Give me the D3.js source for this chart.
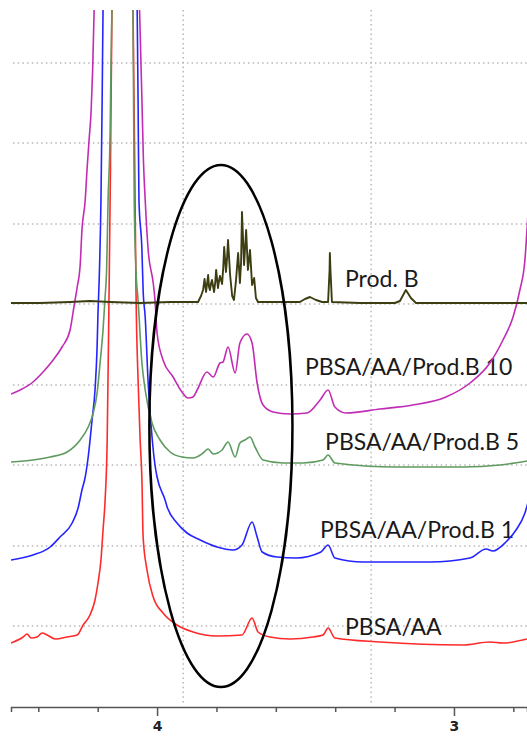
<!DOCTYPE html>
<html>
<head>
<meta charset="utf-8">
<script src="https://cdn.jsdelivr.net/npm/d3@7/dist/d3.min.js"></script>
<style>
  body { margin: 0; background: #fff; }
  svg { display: block; }
</style>
</head>
<body>
<div id="chart"></div>
<script>
'use strict';

// chemical shift (ppm) vs stacked intensity (arbitrary units)
const prodB = [
  [4.492,404],[4.394,404],[4.293,405],[4.226,406],[4.158,405],[4.057,404],[3.956,405],
  [3.862,405],[3.852,411],[3.845,417],[3.840,428],[3.835,415],[3.828,432],[3.825,420],
  [3.822,417],[3.818,424],[3.815,427],[3.808,415],[3.804,425],[3.801,437],[3.795,419],
  [3.791,427],[3.788,431],[3.781,423],[3.777,440],[3.774,460],[3.768,435],[3.764,450],
  [3.761,467],[3.754,432],[3.747,411],[3.741,407],[3.734,427],[3.727,454],[3.721,424],
  [3.717,445],[3.714,495],[3.707,442],[3.700,477],[3.694,437],[3.687,457],[3.680,422],
  [3.673,429],[3.667,409],[3.660,405],[3.586,405],[3.519,405],[3.502,408],[3.485,410],
  [3.465,407],[3.444,405],[3.424,405],[3.419,437],[3.418,454],[3.416,437],[3.411,405],
  [3.316,404],[3.199,404],[3.182,406],[3.162,417],[3.145,409],[3.128,404],[3.013,404],
  [2.879,404],[2.754,404]
];
const pbsaAaProdB10 = [
  [4.492,313],[4.461,317],[4.418,325],[4.384,335],[4.350,347],[4.320,360],[4.293,377],
  [4.279,402],[4.269,420],[4.259,442],[4.253,477],[4.242,507],[4.236,537],[4.229,567],
  [4.222,597],[4.217,637],[4.212,697],[4.205,757],[4.135,1500],[4.064,757],[4.059,697],
  [4.051,607],[4.046,547],[4.040,507],[4.030,457],[4.013,424],[4.007,407],[4.000,374],
  [3.980,347],[3.946,330],[3.916,315],[3.896,309],[3.879,310],[3.865,317],[3.832,335],
  [3.811,330],[3.788,344],[3.778,345],[3.761,360],[3.737,334],[3.721,364],[3.697,373],
  [3.680,364],[3.663,324],[3.643,302],[3.609,295],[3.552,293],[3.495,294],[3.451,307],
  [3.424,317],[3.401,300],[3.364,294],[3.249,298],[3.138,302],[3.027,310],[2.946,324],
  [2.879,344],[2.835,367],[2.801,390],[2.778,417],[2.761,447],[2.751,492]
];
const pbsaAaProdB5 = [
  [4.492,245],[4.418,247],[4.360,250],[4.303,255],[4.259,267],[4.232,280],[4.215,294],
  [4.202,314],[4.192,344],[4.182,377],[4.175,410],[4.170,437],[4.165,507],[4.158,577],
  [4.155,647],[4.152,697],[4.148,757],[4.115,1500],[4.082,757],[4.081,697],[4.077,507],
  [4.071,437],[4.064,407],[4.051,344],[4.040,317],[4.017,284],[3.990,267],[3.956,255],
  [3.916,250],[3.879,249],[3.845,254],[3.828,258],[3.811,253],[3.781,257],[3.761,265],
  [3.737,250],[3.721,264],[3.704,267],[3.687,270],[3.670,260],[3.643,247],[3.576,244],
  [3.508,244],[3.441,247],[3.424,252],[3.401,244],[3.195,240],[2.970,240],[2.845,242],
  [2.754,246]
];
const pbsaAaProdB1 = [
  [4.492,147],[4.418,152],[4.360,160],[4.327,170],[4.286,184],[4.266,199],[4.253,217],
  [4.242,230],[4.232,250],[4.219,287],[4.209,317],[4.202,360],[4.199,394],[4.195,427],
  [4.189,507],[4.185,607],[4.182,697],[4.178,757],[4.125,1500],[4.071,757],[4.067,697],
  [4.064,607],[4.061,507],[4.051,457],[4.047,417],[4.040,390],[4.030,324],[4.017,270],
  [4.007,242],[4.000,230],[3.973,207],[3.966,200],[3.933,184],[3.899,174],[3.855,167],
  [3.798,160],[3.744,157],[3.714,162],[3.680,185],[3.663,170],[3.646,155],[3.596,150],
  [3.532,149],[3.448,155],[3.424,162],[3.401,149],[3.306,145],[3.081,145],[2.946,149],
  [2.892,158],[2.869,156],[2.825,165],[2.791,177],[2.761,194],[2.751,204]
];
const pbsaAa = [
  [4.492,64],[4.451,70],[4.438,73],[4.424,69],[4.404,70],[4.387,74],[4.370,72],
  [4.343,68],[4.303,70],[4.269,72],[4.249,82],[4.226,92],[4.209,107],[4.199,124],
  [4.189,147],[4.182,177],[4.175,207],[4.168,267],[4.162,407],[4.157,537],[4.152,697],
  [4.148,757],[4.115,1500],[4.084,757],[4.081,697],[4.074,507],[4.071,417],[4.064,327],
  [4.057,267],[4.051,227],[4.047,170],[4.034,137],[4.013,110],[3.980,94],[3.933,82],
  [3.879,75],[3.798,71],[3.714,72],[3.680,89],[3.660,75],[3.620,70],[3.552,68],
  [3.475,70],[3.441,72],[3.424,79],[3.401,69],[3.249,65],[2.970,62],[2.879,65],
  [2.835,64],[2.754,68]
];

const seriesData = [pbsaAa, pbsaAaProdB1, pbsaAaProdB5, pbsaAaProdB10, prodB];
const seriesColors = ['#ff2a2a', '#2424ff', '#5f9a5f', '#c22cb4', '#3d3d12'];
const seriesWidths = [1.6, 1.6, 1.6, 1.6, 1.9];
const seriesLabels = ['PBSA/AA', 'PBSA/AA/Prod.B 1', 'PBSA/AA/Prod.B 5', 'PBSA/AA/Prod.B 10', 'Prod. B'];
// label anchor: ppm of text start, intensity of baseline
const labelPpm = [3.367, 3.451, 3.434, 3.502, 3.367];
const labelInt = [72, 169, 257, 332, 420];

const tickPpm = [4.4, 4.2, 4.0, 3.8, 3.6, 3.4, 3.2, 3.0, 2.8];
const labelledTicks = [4, 3];
const gridPpm = [3.912, 3.279];
const gridInt = [81, 161, 242, 322, 403, 483, 564, 644];
// the hand-drawn ellipse: centre and radii in data units
const ellipseCentre = [3.785, 281];
const ellipseRadius = [0.241, 261];

const width = 527;
const height = 740;

const x = d3.scaleLinear().domain([4.492, 2.754]).range([11, 527]);
const y = d3.scaleLinear().domain([0, 697]).range([707, 10]);

const svg = d3.select('#chart').append('svg')
  .attr('width', width)
  .attr('height', height);

svg.append('defs').append('clipPath')
  .attr('id', 'plot')
  .append('rect')
  .attr('x', 11).attr('y', 10)
  .attr('width', 516).attr('height', 697);

// dotted grid
const grid = svg.append('g')
  .attr('stroke', '#b8b8b8')
  .attr('stroke-width', 1.5)
  .attr('stroke-dasharray', '1.5,3.2');
grid.selectAll('line.h')
  .data(gridInt)
  .enter()
  .append('line')
  .attr('class', 'h')
  .attr('x1', 13).attr('x2', width)
  .attr('y1', d => y(d)).attr('y2', d => y(d));
grid.selectAll('line.v')
  .data(gridPpm)
  .enter()
  .append('line')
  .attr('class', 'v')
  .attr('x1', d => x(d)).attr('x2', d => x(d))
  .attr('y1', 10).attr('y2', 705);

// labels sit under the traces
svg.append('g')
  .selectAll('text')
  .data(seriesLabels)
  .enter()
  .append('text')
  .attr('x', (d, i) => x(labelPpm[i]))
  .attr('y', (d, i) => y(labelInt[i]))
  .attr('font-family', 'Lato, "Open Sans", sans-serif')
  .attr('font-size', 23)
  .attr('fill', '#1a1a1a')
  .text(d => d);

const smooth = d3.line()
  .x(d => x(d[0]))
  .y(d => y(d[1]))
  .curve(d3.curveMonotoneX);
const sharp = d3.line()
  .x(d => x(d[0]))
  .y(d => y(d[1]));

svg.append('g')
  .attr('clip-path', 'url(#plot)')
  .selectAll('path')
  .data(seriesData)
  .enter()
  .append('path')
  .attr('d', d => d === prodB ? sharp(d) : smooth(d))
  .attr('fill', 'none')
  .attr('stroke', (d, i) => seriesColors[i])
  .attr('stroke-width', (d, i) => seriesWidths[i])
  .attr('stroke-linejoin', 'round');

svg.append('ellipse')
  .attr('cx', x(ellipseCentre[0]))
  .attr('cy', y(ellipseCentre[1]))
  .attr('rx', x(ellipseCentre[0] - ellipseRadius[0]) - x(ellipseCentre[0]))
  .attr('ry', y(0) - y(ellipseRadius[1]))
  .attr('fill', 'none')
  .attr('stroke', '#000')
  .attr('stroke-width', 2.5);

// x axis
const axis = svg.append('g')
  .attr('transform', 'translate(0,707)')
  .call(d3.axisBottom(x)
    .tickValues(tickPpm)
    .tickSizeOuter(0)
    .tickSize(5)
    .tickFormat(d => labelledTicks.includes(d) ? d3.format('d')(d) : ''));
axis.select('.domain').attr('stroke', '#555').attr('stroke-width', 1.5);
axis.selectAll('.tick line')
  .attr('stroke', '#555')
  .attr('stroke-width', 1.5)
  .attr('y2', d => labelledTicks.includes(d) ? 9 : 5);
axis.selectAll('.tick text')
  .attr('y', 14)
  .attr('font-family', '"DejaVu Sans", sans-serif')
  .attr('font-weight', 'bold')
  .attr('font-size', 14)
  .attr('fill', '#222');
</script>
</body>
</html>
